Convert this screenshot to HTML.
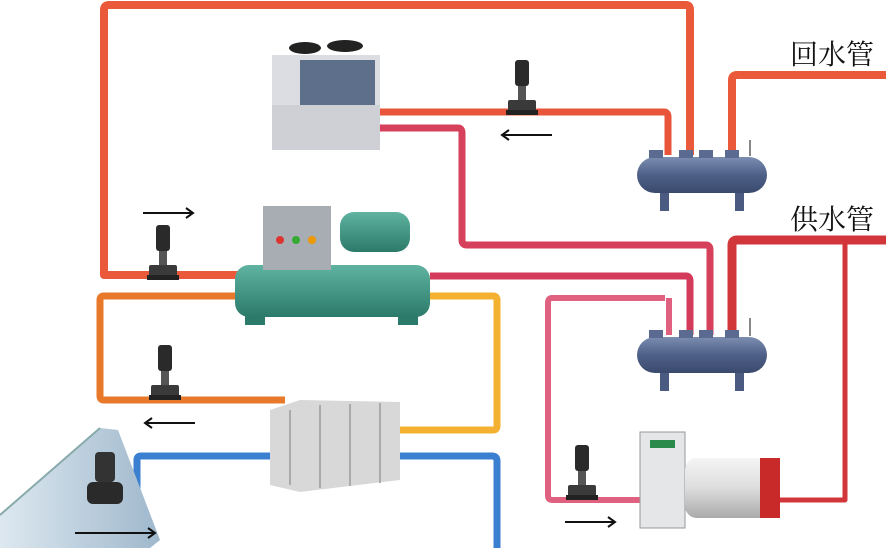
<!DOCTYPE html>
<html><head><meta charset="utf-8"><style>
html,body{margin:0;padding:0;background:#fff;width:886px;height:548px;overflow:hidden}
svg{display:block}
text{font-family:"Liberation Serif","Noto Serif CJK SC",serif}
</style></head><body>
<svg width="886" height="548" viewBox="0 0 886 548" xmlns="http://www.w3.org/2000/svg">
<defs>
<linearGradient id="hd" x1="0" y1="0" x2="0" y2="1"><stop offset="0" stop-color="#7b8db0"/><stop offset="0.5" stop-color="#4f6088"/><stop offset="1" stop-color="#3a4a6e"/></linearGradient>
<linearGradient id="ch" x1="0" y1="0" x2="0" y2="1"><stop offset="0" stop-color="#5fb3a0"/><stop offset="1" stop-color="#2c7a6a"/></linearGradient>
<linearGradient id="tank" x1="0" y1="0" x2="0" y2="1"><stop offset="0" stop-color="#f4f4f4"/><stop offset="0.5" stop-color="#ddd"/><stop offset="1" stop-color="#aaa"/></linearGradient>
<linearGradient id="wat" x1="0" y1="0" x2="1" y2="0"><stop offset="0" stop-color="#dde8f0"/><stop offset="1" stop-color="#9fb8cc"/></linearGradient>
<g id="pump"><rect x="-7" y="0" width="14" height="26" rx="3" fill="#2a2a2a"/><rect x="-4" y="26" width="8" height="14" fill="#555"/><rect x="-14" y="40" width="28" height="12" rx="2" fill="#3a3a3a"/><rect x="-16" y="50" width="32" height="5" fill="#222"/></g>
<g id="header"><rect x="0" y="7" width="130" height="36" rx="18" fill="url(#hd)"/><rect x="12" y="0" width="14" height="8" fill="#5a6a90"/><rect x="42" y="0" width="14" height="8" fill="#5a6a90"/><rect x="62" y="0" width="14" height="8" fill="#5a6a90"/><rect x="88" y="0" width="14" height="8" fill="#5a6a90"/><rect x="23" y="43" width="9" height="18" fill="#4a5a80"/><rect x="98" y="43" width="9" height="18" fill="#4a5a80"/></g>
</defs>
<g fill="none" stroke-linejoin="round" stroke-linecap="butt">
<path d="M240 275 H104 V10 Q104 5 109 5 H686 Q690 5 690 10 V155" stroke="#ea5a3a" stroke-width="8"/>
<path d="M380 112 H664 Q668 112 668 117 V155" stroke="#e8553a" stroke-width="7"/>
<path d="M732 155 V80 Q732 75 737 75 H886" stroke="#ea5a3a" stroke-width="8"/>
<path d="M380 128 H458 Q462 128 462 133 V240 Q462 245 467 245 H706 Q710 245 710 250 V335" stroke="#d6405a" stroke-width="7"/>
<path d="M430 276 H686 Q690 276 690 281 V335" stroke="#d43a5a" stroke-width="7"/>
<path d="M665 298 H552 Q548 298 548 303 V496 Q548 500 553 500 H640" stroke="#e06080" stroke-width="6"/>
<path d="M669 298 V335" stroke="#e06080" stroke-width="6"/>
<path d="M732 335 V245 Q732 240 737 240 H886" stroke="#d0363a" stroke-width="9"/>
<path d="M845 240 V500 H770" stroke="#d0363a" stroke-width="5"/>
<path d="M240 296 H104 Q100 296 100 300 V396 Q100 400 104 400 H285" stroke="#e8782a" stroke-width="7"/>
<path d="M430 296 H493 Q497 296 497 300 V426 Q497 430 493 430 H400" stroke="#f4b030" stroke-width="7"/>
<path d="M270 456 H141 Q137 456 137 460 V548" stroke="#3b7fd0" stroke-width="7"/>
<path d="M400 456 H492 Q497 456 497 461 V548" stroke="#3b7fd0" stroke-width="7"/>
</g>
<use href="#header" x="637" y="150"/>
<use href="#header" x="637" y="330"/>
<line x1="750" y1="140" x2="750" y2="156" stroke="#888" stroke-width="2"/>
<line x1="750" y1="318" x2="750" y2="336" stroke="#888" stroke-width="2"/>
<rect x="272" y="55" width="108" height="95" fill="#dcdde2"/>
<rect x="300" y="60" width="75" height="45" fill="#5d6f8a"/>
<rect x="272" y="105" width="108" height="45" fill="#cfd0d6"/>
<ellipse cx="305" cy="48" rx="16" ry="6" fill="#222"/><ellipse cx="345" cy="46" rx="18" ry="6" fill="#222"/>
<rect x="235" y="265" width="195" height="52" rx="14" fill="url(#ch)"/>
<rect x="340" y="212" width="70" height="40" rx="14" fill="url(#ch)"/>
<rect x="263" y="206" width="68" height="64" fill="#a7adb2"/>
<circle cx="280" cy="240" r="4" fill="#d33"/><circle cx="296" cy="240" r="4" fill="#3a3"/><circle cx="312" cy="240" r="4" fill="#e90"/>
<rect x="245" y="315" width="20" height="10" fill="#2c7a6a"/><rect x="398" y="315" width="20" height="10" fill="#2c7a6a"/>
<polygon points="270,410 300,400 400,402 400,480 300,492 270,485" fill="#d8d8d8"/>
<g stroke="#aaa" stroke-width="2"><line x1="290" y1="410" x2="290" y2="485"/><line x1="320" y1="405" x2="320" y2="488"/><line x1="350" y1="404" x2="350" y2="486"/><line x1="380" y1="403" x2="380" y2="483"/></g>
<polygon points="0,515 100,428 118,430 160,540 150,548 0,548" fill="url(#wat)"/>
<line x1="0" y1="515" x2="100" y2="428" stroke="#8aa" stroke-width="2"/>
<rect x="640" y="432" width="45" height="96" fill="#e4e6e8" stroke="#999"/>
<rect x="650" y="440" width="25" height="8" fill="#2a8a4a"/>
<rect x="685" y="458" width="95" height="60" rx="12" fill="url(#tank)"/>
<rect x="760" y="458" width="20" height="60" fill="#c82a2a"/>
<use href="#pump" x="163" y="225"/>
<use href="#pump" x="165" y="345"/>
<use href="#pump" x="522" y="60"/>
<use href="#pump" x="582" y="445"/>
<g transform="translate(105,452)"><rect x="-10" y="0" width="20" height="30" rx="4" fill="#333"/><rect x="-18" y="30" width="36" height="22" rx="6" fill="#2a2a2a"/></g>
<g stroke="#111" stroke-width="2" fill="none">
<path d="M143 213 H193 M186 208 L193 213 L186 218"/>
<path d="M552 135 H502 M509 130 L502 135 L509 140"/>
<path d="M195 423 H145 M152 418 L145 423 L152 428"/>
<path d="M565 522 H615 M608 517 L615 522 L608 527"/>
<path d="M75 533 H155 M148 528 L155 533 L148 538"/>
</g>
<text x="790" y="64" font-size="28" fill="#111">回水管</text>
<text x="790" y="229" font-size="28" fill="#111">供水管</text>
</svg>
</body></html>
